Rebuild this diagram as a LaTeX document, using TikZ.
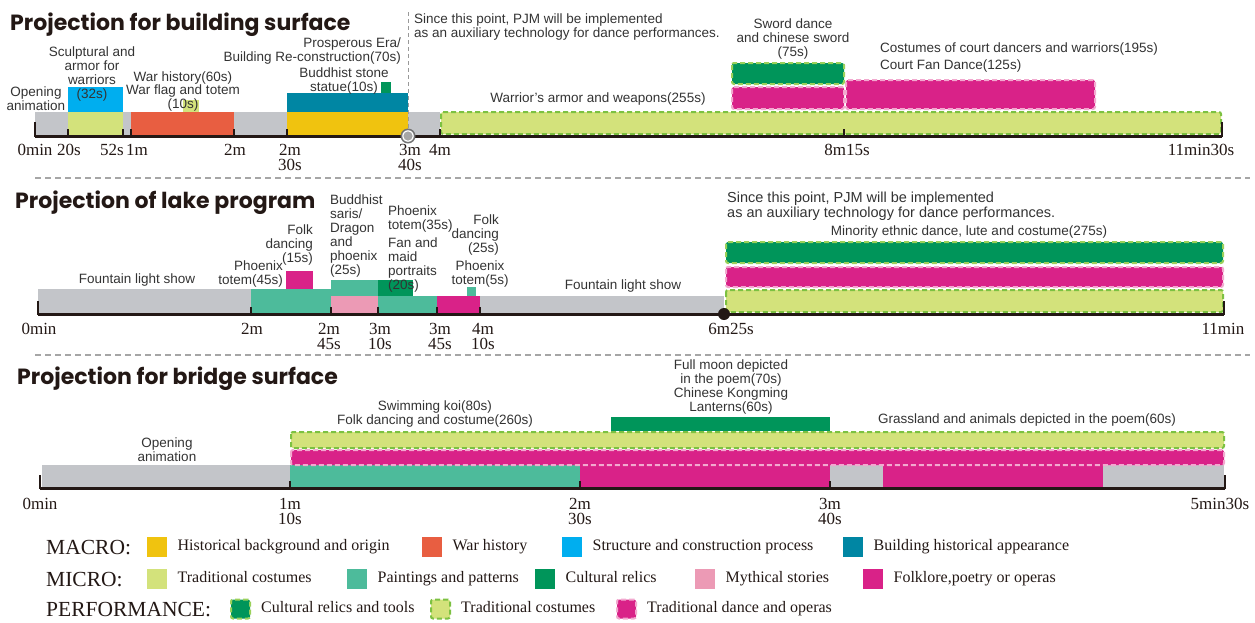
\documentclass[tikz,border=0pt]{standalone}
\usepackage{fontspec}
\setmainfont{Liberation Serif}
\setsansfont{Liberation Sans}
\newfontfamily\headfont{Poppins}
\usepackage{tikz}
\usetikzlibrary{positioning}
\definecolor{cgray}{HTML}{C3C5C9}
\definecolor{cyel}{HTML}{F0C30F}
\definecolor{cred}{HTML}{E85E41}
\definecolor{cblue}{HTML}{00AEEF}
\definecolor{cpetrol}{HTML}{0086A3}
\definecolor{clime}{HTML}{D3E27B}
\definecolor{cjade}{HTML}{4DBB9B}
\definecolor{cgreen}{HTML}{00955A}
\definecolor{cpink}{HTML}{EC9AB5}
\definecolor{cmag}{HTML}{D92288}
\definecolor{cgreenbd}{HTML}{9BD15A}
\definecolor{climebd}{HTML}{7CC142}
\definecolor{cpinkbd}{HTML}{F2A9CF}
\definecolor{cink}{HTML}{231815}

\tikzset{
  ttl/.style={font=\headfont\bfseries\fontsize{22}{22}\selectfont,inner sep=0pt,anchor=base west,text=cink},
  lbl/.style={font=\sffamily\fontsize{13.5}{14}\selectfont,inner sep=0pt,align=center,text=black!80},
  tck/.style={font=\fontsize{17}{15.5}\selectfont,inner sep=0pt,align=center,anchor=north,text=cink},
  axisln/.style={line width=3pt,cink},
  smtick/.style={line width=1.3pt,cink},
  sepline/.style={gray!70,line width=1.2pt,dash pattern=on 6pt off 4pt},
  perfline/.style={line width=2pt,dash pattern=on 5pt off 3pt,rounded corners=2pt},
  perfG/.style={fill=cgreen,draw=cgreenbd,perfline},
  perfL/.style={fill=clime,draw=climebd,perfline},
  perfP/.style={fill=cmag,draw=cpinkbd,perfline},
  swatch/.style={minimum size=20pt,inner sep=0pt,anchor=west},
  rowlbl/.style={font=\fontsize{21.5}{21.5}\selectfont,inner sep=0pt,anchor=west,text=cink,text height=14pt,text depth=0pt},
  legtxt/.style={font=\fontsize{16}{16}\selectfont,inner sep=0pt,text=cink,text height=11pt,text depth=3.5pt},
}

\begin{document}
\begin{tikzpicture}[x=1pt,y=-1pt]
\useasboundingbox (0,0) rectangle (1255,622);

% ---------- building surface
\node[ttl] (t1) at (10,30) {Projection for building surface};
\foreach \xa/\xb/\c in {35/68/cgray,68/123/clime,123/131/cgray,131/234/cred,234/287/cgray,287/408/cyel,408/440/cgray}
  \fill[\c] (\xa,112) rectangle (\xb,135);
\fill[cblue] (68,87) rectangle (123,112);
\fill[clime] (183,100) rectangle (199,112);
\fill[cpetrol] (287,93) rectangle (408,112);
\fill[cgreen] (381,82) rectangle (391,93);
\path[perfL] (441,112) rectangle (1221,134);
\path[perfG] (732,63) rectangle (844,84);
\path[perfP] (732,87) rectangle (844,109);
\path[perfP] (846,80) rectangle (1095,109);
\coordinate (v1t) at (408,12);
\coordinate (v1b) at (408,130);
\draw[gray!80,line width=1pt,dash pattern=on 4pt off 3pt] (v1t) -- (v1b);
\coordinate (a1s) at (35,136);
\coordinate (a1e) at (1222,136);
\draw[axisln] (a1s) -- (a1e);
\draw[line width=2pt,cink] (35,122) -- (35,137) (1222,122) -- (1222,137);
\foreach \x in {68,123,131,234,287,440,844}
  \draw[smtick] (\x,136) -- (\x,129);
\fill[gray!90!black] (408,136) circle (7.5);
\fill[white] (408,136) circle (5.8);
\fill[gray!70] (408,136) circle (4.6);
\foreach \x/\t in {35/0min,69/20s,112/52s,137/1m,235/2m,290/{2m\\30s},410/{3m\\40s},440/4m,847/8m15s,1201/11min30s}
  \node[tck] (ta\x) at (\x,144) {\t};
\node[lbl] (op1) at (36,98.5) {Opening\\animation};
\node[lbl] (scu) at (92,74) {Sculptural and\\armor for\\warriors\\(32s)};
\node[lbl,font=\sffamily\fontsize{13.5}{12.5}\selectfont] (war) at (183,91.5) {War history(60s)\\War flag and totem\\(10s)};
\node[lbl,align=right,anchor=east] (pro) at (401,51.5) {Prosperous Era/\\Building Re-construction(70s)};
\node[lbl] (bud) at (344,81) {Buddhist stone\\statue(10s)};
\node[lbl] (arm) at (598,99) {Warrior's armor and weapons(255s)};
\node[lbl,align=left,anchor=west] (sin1) at (414,27) {Since this point, PJM will be implemented\\as an auxiliary technology for dance performances.};
\node[lbl] (swd) at (793,39) {Sword dance\\and chinese sword\\(75s)};
\node[lbl,align=left,anchor=west,font=\sffamily\fontsize{13.5}{17}\selectfont] (crt) at (880,57.5) {Costumes of court dancers and warriors(195s)\\Court Fan Dance(125s)};

\coordinate (s1a) at (35,178);
\coordinate (s1b) at (1250,178);
\draw[sepline] (s1a) -- (s1b);

% ---------- lake program
\node[ttl] (t2) at (15,208) {Projection of lake program};
\fill[cgray] (38,289) rectangle (251,313);
\fill[cjade] (251,289) rectangle (331,313);
\fill[cmag] (286,271) rectangle (313,289);
\fill[cjade] (331,280) rectangle (378,296);
\fill[cpink] (331,296) rectangle (378,313);
\fill[cgreen] (378,280) rectangle (413,296);
\fill[cjade] (378,296) rectangle (437,313);
\fill[cmag] (437,296) rectangle (480,313);
\fill[cjade] (467,287) rectangle (476,296);
\fill[cgray] (480,296) rectangle (724,313);
\path[perfG] (726,242) rectangle (1223,263);
\path[perfP] (726,267) rectangle (1223,287);
\path[perfL] (726,290) rectangle (1223,312);
\coordinate (a2s) at (38,314);
\coordinate (a2e) at (1224,314);
\draw[axisln] (a2s) -- (a2e);
\draw[line width=2pt,cink] (38,301) -- (38,315) (1224,301) -- (1224,315);
\foreach \x in {251,331,378,437,480}
  \draw[smtick] (\x,314) -- (\x,307);
\fill[cink] (724,314) circle (6);
\foreach \x/\t in {39/0min,252/2m,329/{2m\\45s},380/{3m\\10s},440/{3m\\45s},483/{4m\\10s},731/6m25s,1223/11min}
  \node[tck] (tb\x) at (\x,323) {\t};
\node[lbl] (fo1) at (137,280) {Fountain light show};
\node[lbl,align=right,anchor=east] (ph45) at (283,274) {Phoenix\\totem(45s)};
\node[lbl,align=right,anchor=east] (fk15) at (313,244.5) {Folk\\dancing\\(15s)};
\node[lbl,align=left,anchor=west] (bsar) at (330,235.5) {Buddhist\\saris/\\Dragon\\and\\phoenix\\(25s)};
\node[lbl,align=left,anchor=west] (ph35) at (388,219) {Phoenix\\totem(35s)};
\node[lbl,align=left,anchor=west] (fan) at (388,264.5) {Fan and\\maid\\portraits\\(20s)};
\node[lbl,align=right,anchor=east] (fk25) at (499,234.5) {Folk\\dancing\\(25s)};
\node[lbl] (ph5) at (480,274) {Phoenix\\totem(5s)};
\node[lbl] (fo2) at (623,286) {Fountain light show};
\node[lbl,align=left,anchor=west,font=\sffamily\fontsize{14.5}{13.5}\selectfont] (sin2) at (727,206.5) {Since this point, PJM will be implemented\\as an auxiliary technology for dance performances.};
\node[lbl] (min) at (969,232) {Minority ethnic dance, lute and costume(275s)};

\coordinate (s2a) at (35,355);
\coordinate (s2b) at (1250,355);
\draw[sepline] (s2a) -- (s2b);

% ---------- bridge surface
\node[ttl] (t3) at (17,384) {Projection for bridge surface};
\foreach \xa/\xb/\c in {42/290/cgray,290/580/cjade,580/830/cmag,830/883/cgray,883/1103/cmag,1103/1224/cgray}
  \fill[\c] (\xa,465) rectangle (\xb,488);
\path[perfL] (291,432) rectangle (1224,448);
\path[perfP] (291,450) rectangle (1224,465);
\fill[cgreen] (611,417) rectangle (830,431);
\coordinate (a3s) at (40,488);
\coordinate (a3e) at (1225,488);
\draw[axisln] (a3s) -- (a3e);
\draw[line width=2pt,cink] (40,475) -- (40,489) (1225,475) -- (1225,489);
\foreach \x in {290,580,830}
  \draw[smtick] (\x,488) -- (\x,481);
\foreach \x/\t in {40/0min,290/{1m\\10s},580/{2m\\30s},830/{3m\\40s},1220/5min30s}
  \node[tck] (tc\x) at (\x,498) {\t};
\node[lbl] (op3) at (167,450) {Opening\\animation};
\node[lbl] (koi) at (435,414) {Swimming koi(80s)\\Folk dancing and costume(260s)};
\node[lbl] (moon) at (731,387) {Full moon depicted\\in the poem(70s)\\Chinese Kongming\\Lanterns(60s)};
\node[lbl] (grs) at (1027,420) {Grassland and animals depicted in the poem(60s)};

% ---------- legend
\node[rowlbl] (macro) at (46,547) {MACRO:};
\foreach \x/\c/\t [count=\i] in {147/cyel/Historical background and origin,422/cred/War history,562/cblue/Structure and construction process,843/cpetrol/Building historical appearance}{
  \node[swatch,fill=\c] (ma\i) at (\x,547) {};
  \node[legtxt,right=10pt of ma\i] (mat\i) {\t};
}
\node[rowlbl] (micro) at (46,579) {MICRO:};
\foreach \x/\c/\t [count=\i] in {147/clime/Traditional costumes,347/cjade/Paintings and patterns,535/cgreen/Cultural relics,695/cpink/Mythical stories,863/cmag/{Folklore,poetry or operas}}{
  \node[swatch,fill=\c] (mi\i) at (\x,579) {};
  \node[legtxt,right=10pt of mi\i] (mit\i) {\t};
}
\node[rowlbl] (perf) at (46,609) {PERFORMANCE:};
\foreach \x/\s/\t [count=\i] in {230/perfG/Cultural relics and tools,430/perfL/Traditional costumes,616/perfP/Traditional dance and operas}{
  \node[swatch,\s,minimum size=19pt] (pe\i) at (\x,609) {};
  \node[legtxt,right=10pt of pe\i] (pet\i) {\t};
}
\end{tikzpicture}
\end{document}
